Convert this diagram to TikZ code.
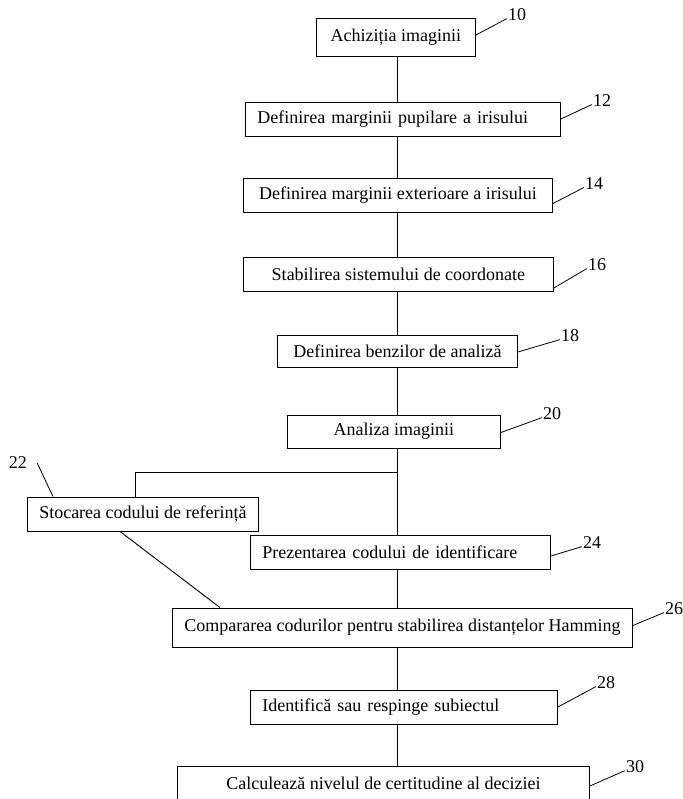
\documentclass[tikz,border=0pt]{standalone}
\usepackage{fontspec}
\setmainfont{Liberation Serif}
\usetikzlibrary{calc,positioning}
\tikzset{stepbox/.style={draw,line width=.9pt,minimum height=34pt,inner xsep=2pt,inner ysep=0pt,align=center,anchor=west,font=\fontsize{18}{20}\selectfont},
 leftbox/.style={stepbox,align=left,inner xsep=12pt},
 refnum/.style={inner sep=1pt,font=\fontsize{18}{20}\selectfont},
 flow/.style={line width=.9pt},
 leader/.style={line width=.8pt}}

\begin{document}
\begin{tikzpicture}[x=1pt,y=-1pt]
\useasboundingbox (0,0) rectangle (682,799);
\clip (0,0) rectangle (682,799);
% steps of the method
\node[stepbox,minimum width=159pt,minimum height=38pt] (b10) at (316,37) {Achiziția imaginii};
\node[leftbox,text width=291pt] (b12) at (245,119) {Definirea marginii pupilare a irisului};
\node[stepbox,minimum width=309pt] (b14) at (243,195.5) {Definirea marginii exterioare a irisului};
\node[stepbox,minimum width=310pt] (b16) at (243,274) {Stabilirea sistemului de coordonate};
\node[stepbox,minimum width=240pt,minimum height=32pt] (b18) at (277,351) {Definirea benzilor de analiză};
\node[stepbox,minimum width=213pt,minimum height=33pt] (b20) at (287,431.5) {Analiza imaginii};
\node[stepbox,minimum width=231pt] (b22) at (27,514) {Stocarea codului de referință};
\node[leftbox,text width=276pt] (b24) at (250,552) {Prezentarea codului de identificare};
\node[stepbox,minimum width=460pt,minimum height=39pt] (b26) at (172,627.5) {Compararea codurilor pentru stabilirea distanțelor Hamming};
\node[leftbox,text width=283pt] (b28) at (250,707) {Identifică sau respinge subiectul};
\node[stepbox,minimum width=412pt] (b30) at (177,783) {Calculează nivelul de certitudine al deciziei};
% reference numerals
\node[refnum] (n10) at (517,15) {10};
\node[refnum] (n12) at (602,101) {12};
\node[refnum] (n14) at (594,184) {14};
\node[refnum] (n16) at (597,265) {16};
\node[refnum] (n18) at (570,336) {18};
\node[refnum] (n20) at (552,414) {20};
\node[refnum] (n22) at (18,463) {22};
\node[refnum] (n24) at (592,543) {24};
\node[refnum] (n26) at (674,609) {26};
\node[refnum] (n28) at (606,683) {28};
\node[refnum] (n30) at (635,767) {30};
% main line
\coordinate (trunk) at (397,0);
\coordinate (fork) at (397,472);
\foreach \a/\b in {b10/b12,b12/b14,b14/b16,b16/b18,b18/b20,b20/b24,b24/b26,b26/b28,b28/b30}
 \draw[flow] (\a.south -| trunk) -- (\b.north -| trunk);
\draw[flow] (fork) -| ([xshift=108pt]b22.north west);
\draw[flow] ([xshift=93pt]b22.south west) -- ([xshift=48pt]b26.north west);
% leaders
\foreach \k/\dy in {10/2,12/0,14/-8,16/-14,18/-1,20/-1,24/-4,26/2,28/0,30/-3}
 \draw[leader] ([yshift=\dy pt]b\k.east) -- ($(n\k.west)!.5!(n\k.south west)$);
\draw[leader] ([xshift=9pt]n22.east) -- ([xshift=26pt]b22.north west);
\end{tikzpicture}
\end{document}
